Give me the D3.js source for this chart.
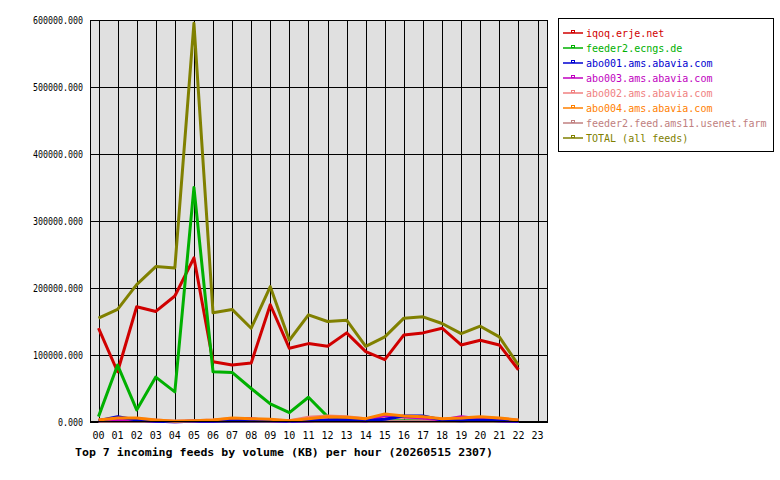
<!DOCTYPE html><html><head><script src="https://cdn.jsdelivr.net/npm/d3@7"></script>
<style>body{margin:0;background:#fff}text{font-family:"DejaVu Sans Mono",monospace;font-size:10px}</style></head><body>
<svg id="c" width="780" height="480"></svg>
<script>
const hours=["00","01","02","03","04","05","06","07","08","09","10","11","12","13","14","15","16","17","18","19","20","21","22","23"];
const yTicks=[0,100000,200000,300000,400000,500000,600000];
const names=["iqoq.erje.net","feeder2.ecngs.de","abo001.ams.abavia.com","abo003.ams.abavia.com","abo002.ams.abavia.com","abo004.ams.abavia.com","feeder2.feed.ams11.usenet.farm","TOTAL (all feeds)"];
const colors=["#d00000","#00b000","#0000d0","#c000c0","#f08080","#ff8000","#c08080","#808000"];
const iqoq=[140000,75000,172000,165000,188000,245000,90000,85000,88000,175000,110000,117000,113000,133000,105000,93000,130000,133000,140000,115000,122000,115000,78000];
const ecngs=[8000,85000,18000,67000,45000,350000,75000,74000,50000,27000,14000,37000,8000,5000,3000,2000,2000,2000,2000,2000,2000,2000,1000];
const abo001=[2000,8000,3000,1000,500,1000,1000,2000,2000,2000,1000,2000,3000,3000,2000,4000,9000,9000,3000,2000,3000,2000,1000];
const abo003=[2000,3000,3000,1000,500,1000,1000,5000,5000,2000,1000,2000,3000,3000,2000,10000,8000,6000,3000,8000,5000,2000,1000];
const abo002=[3000,5000,5000,3000,1000,2000,3000,5000,4000,3000,2000,7000,9000,8000,5000,8000,7000,6000,4000,5000,6000,5000,3000];
const abo004=[3000,6000,6000,3000,1000,2000,3000,6000,5000,4000,2000,5000,8000,7000,5000,12000,9000,8000,5000,6000,8000,6000,3000];
const farm=[1000,1000,1000,1000,1000,1000,1000,1000,1000,1000,1000,1000,1000,1000,1000,1000,1000,1000,1000,1000,1000,1000,1000];
const total=[155000,168000,205000,232000,230000,595000,163000,168000,140000,202000,122000,160000,150000,152000,113000,127000,155000,157000,147000,132000,143000,127000,85000];
const series=[iqoq,ecngs,abo001,abo003,abo002,abo004,farm,total];
const svg=d3.select("#c");
const L=90,R=548,T=20,B=422;
const x=d3.scalePoint().domain(hours).range([98.5,537.5]);
const y=d3.scaleLinear().domain([0,600000]).range([B,T]);
svg.append("rect").attr("x",L).attr("y",T).attr("width",R-L).attr("height",B-T).attr("fill","#e0e0e0");
hours.forEach(h=>svg.append("line").attr("x1",Math.round(x(h))+.5).attr("x2",Math.round(x(h))+.5).attr("y1",T).attr("y2",B).attr("stroke","#000"));
yTicks.forEach(t=>{svg.append("line").attr("x1",L).attr("x2",R).attr("y1",Math.round(y(t))+.5).attr("y2",Math.round(y(t))+.5).attr("stroke","#000");
const s=t.toFixed(3);
svg.append("text").attr("x",83).attr("y",y(t)+4).attr("text-anchor","end").attr("textLength",s.length*5).attr("lengthAdjust","spacingAndGlyphs").text(s);});
const line=d3.line().x((d,i)=>x(hours[i])).y(d=>y(d));
[7,0,1,6,4,3,2,5].forEach(i=>svg.append("path").attr("d",line(series[i])).attr("fill","none").attr("stroke",colors[i]).attr("stroke-width",3).attr("stroke-linejoin","round"));
svg.append("rect").attr("x",L+.5).attr("y",T+.5).attr("width",R-L-1).attr("height",B-T-1).attr("fill","none").attr("stroke","#000");
hours.forEach(h=>svg.append("text").attr("x",x(h)).attr("y",439).attr("text-anchor","middle").text(h));
svg.append("text").attr("x",75).attr("y",456).attr("font-weight","bold").attr("textLength",418).attr("lengthAdjust","spacingAndGlyphs").text("Top 7 incoming feeds by volume (KB) per hour (20260515 2307)");
svg.append("rect").attr("x",558.5).attr("y",18.5).attr("width",215).attr("height",133).attr("fill","#fff").attr("stroke","#000");
names.forEach((n,i)=>{const yy=33+i*15;
svg.append("line").attr("x1",563).attr("x2",583).attr("y1",yy).attr("y2",yy).attr("stroke",colors[i]).attr("stroke-width",1.5);
svg.append("rect").attr("x",571.5).attr("y",yy-2.5).attr("width",3).attr("height",2).attr("fill","none").attr("stroke",colors[i]).attr("stroke-width",1);
svg.append("text").attr("x",586).attr("y",yy+4).attr("fill",colors[i]).text(n);});
</script></body></html>
